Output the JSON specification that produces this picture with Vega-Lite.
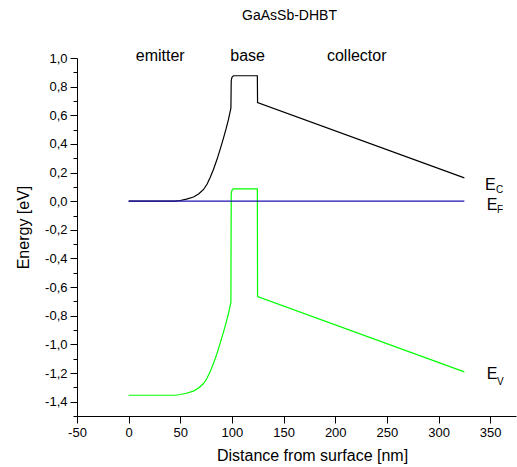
{
  "$schema": "https://vega.github.io/schema/vega-lite/v6.json",
  "width": 439,
  "height": 358,
  "autosize": {"type": "none"},
  "padding": {"left": 77, "top": 58, "right": 1, "bottom": 51},
  "background": "white",
  "config": {
    "view": {"stroke": null},
    "font": "Liberation Sans",
    "axis": {"grid": false, "domainColor": "black", "tickColor": "black", "labelColor": "black", "titleColor": "black", "labelFont": "Liberation Sans", "titleFont": "Liberation Sans", "titleFontWeight": "normal", "labelFontSize": 13, "titleFontSize": 16, "domainWidth": 1, "tickWidth": 1, "labelOverlap": false, "labelFlush": false, "labelBound": false}
  },
  "title": {"text": "GaAsSb-DHBT", "fontSize": 14, "fontWeight": "normal", "font": "Liberation Sans", "color": "black", "anchor": "middle", "baseline": "alphabetic", "offset": 28, "dx": -7, "dy": 14},
  "resolve": {"axis": {"y": "independent"}},
  "datasets": {
    "bands": [
      {"band": "EC", "x": 0, "y": 0},
      {"band": "EC", "x": 45, "y": 0.0},
      {"band": "EC", "x": 49.9, "y": 0.005},
      {"band": "EC", "x": 56, "y": 0.014},
      {"band": "EC", "x": 62.8, "y": 0.029},
      {"band": "EC", "x": 68, "y": 0.052},
      {"band": "EC", "x": 72.5, "y": 0.082},
      {"band": "EC", "x": 76, "y": 0.12},
      {"band": "EC", "x": 78.9, "y": 0.165},
      {"band": "EC", "x": 82, "y": 0.22},
      {"band": "EC", "x": 85.4, "y": 0.289},
      {"band": "EC", "x": 88.5, "y": 0.36},
      {"band": "EC", "x": 91.8, "y": 0.441},
      {"band": "EC", "x": 94.5, "y": 0.51},
      {"band": "EC", "x": 96.6, "y": 0.569},
      {"band": "EC", "x": 99.0, "y": 0.65},
      {"band": "EC", "x": 99.3, "y": 0.84},
      {"band": "EC", "x": 100.0, "y": 0.866},
      {"band": "EC", "x": 101.5, "y": 0.876},
      {"band": "EC", "x": 124.6, "y": 0.876},
      {"band": "EC", "x": 124.8, "y": 0.689},
      {"band": "EC", "x": 325, "y": 0.163},
      {"band": "EV", "x": 0, "y": -1.355},
      {"band": "EV", "x": 45, "y": -1.355},
      {"band": "EV", "x": 49.9, "y": -1.35},
      {"band": "EV", "x": 56, "y": -1.341},
      {"band": "EV", "x": 62.8, "y": -1.326},
      {"band": "EV", "x": 68, "y": -1.303},
      {"band": "EV", "x": 72.5, "y": -1.273},
      {"band": "EV", "x": 76, "y": -1.235},
      {"band": "EV", "x": 78.9, "y": -1.19},
      {"band": "EV", "x": 82, "y": -1.135},
      {"band": "EV", "x": 85.4, "y": -1.066},
      {"band": "EV", "x": 88.5, "y": -0.995},
      {"band": "EV", "x": 91.8, "y": -0.914},
      {"band": "EV", "x": 94.5, "y": -0.845},
      {"band": "EV", "x": 96.6, "y": -0.786},
      {"band": "EV", "x": 99.0, "y": -0.705},
      {"band": "EV", "x": 99.3, "y": 0.05},
      {"band": "EV", "x": 100.0, "y": 0.076},
      {"band": "EV", "x": 101.5, "y": 0.086},
      {"band": "EV", "x": 124.6, "y": 0.086},
      {"band": "EV", "x": 124.8, "y": -0.666},
      {"band": "EV", "x": 325, "y": -1.192},
      {"band": "EF", "x": 0, "y": 0},
      {"band": "EF", "x": 325, "y": 0}
    ],
    "regions": [
      {"label": "emitter", "x": 30.6, "y": 0.976},
      {"label": "base", "x": 115.2, "y": 0.976},
      {"label": "collector", "x": 220.8, "y": 0.976}
    ],
    "mains": [
      {"label": "E", "x": 344.9, "y": 0.08},
      {"label": "E", "x": 346.8, "y": -0.06},
      {"label": "E", "x": 346.8, "y": -1.241}
    ],
    "subs": [
      {"label": "C", "x": 355.6, "y": 0.06},
      {"label": "F", "x": 356.5, "y": -0.08},
      {"label": "V", "x": 356.5, "y": -1.283}
    ]
  },
  "layer": [
    {
      "data": {"name": "bands"},
      "mark": {"type": "line", "strokeWidth": 1.2, "clip": true},
      "encoding": {
        "x": {"field": "x", "type": "quantitative", "scale": {"domain": [-50, 375], "nice": false, "zero": false},
          "axis": {"title": "Distance from surface [nm]", "values": [-50,-25,0,25,50,75,100,125,150,175,200,225,250,275,300,325,350,375],
            "labelExpr": "datum.value % 50 == 0 ? toString(datum.value) : ''",
            "tickSize": {"condition": {"test": "datum.value % 50 == 0", "value": 7}, "value": 4},
            "labelPadding": 3, "titleX": 235, "titleY": 44, "titleBaseline": "alphabetic", "titleAnchor": "middle"}},
        "y": {"field": "y", "type": "quantitative", "scale": {"domain": [-1.5, 1.0], "nice": false, "zero": false},
          "axis": {"orient": "left", "title": "Energy [eV]", "values": [-1.4,-1.2,-1.0,-0.8,-0.6,-0.4,-0.2,0,0.2,0.4,0.6,0.8,1.0],
            "labelExpr": "(datum.value < 0 ? '-' : '') + toString(floor(abs(datum.value) + 0.001)) + ',' + toString(round(abs(datum.value) * 10) % 10)",
            "tickSize": 7,
            "labelPadding": 3, "titleX": -49, "titleY": 169, "titleBaseline": "alphabetic", "titleAnchor": "middle"}},
        "color": {"field": "band", "type": "nominal", "scale": {"domain": ["EC", "EV", "EF"], "range": ["#000000", "#00ff00", "#2010b0"]}, "legend": null}
      }
    },
    {
      "data": {"name": "regions"},
      "mark": {"type": "text", "fontSize": 16, "font": "Liberation Sans", "align": "center", "baseline": "alphabetic", "color": "black"},
      "encoding": {
        "x": {"field": "x", "type": "quantitative"},
        "y": {"field": "y", "type": "quantitative",
          "axis": {"orient": "left", "title": null, "labels": false, "domain": false, "tickSize": 4,
            "values": [-1.5,-1.3,-1.1,-0.9,-0.7,-0.5,-0.3,-0.1,0.1,0.3,0.5,0.7,0.9]}},
        "text": {"field": "label"}
      }
    },
    {
      "data": {"name": "mains"},
      "mark": {"type": "text", "fontSize": 16, "font": "Liberation Sans", "align": "left", "baseline": "alphabetic", "color": "black"},
      "encoding": {
        "x": {"field": "x", "type": "quantitative"},
        "y": {"field": "y", "type": "quantitative", "axis": null},
        "text": {"field": "label"}
      }
    },
    {
      "data": {"name": "subs"},
      "mark": {"type": "text", "fontSize": 10, "font": "Liberation Sans", "align": "left", "baseline": "alphabetic", "color": "black"},
      "encoding": {
        "x": {"field": "x", "type": "quantitative"},
        "y": {"field": "y", "type": "quantitative", "axis": null},
        "text": {"field": "label"}
      }
    }
  ]
}
